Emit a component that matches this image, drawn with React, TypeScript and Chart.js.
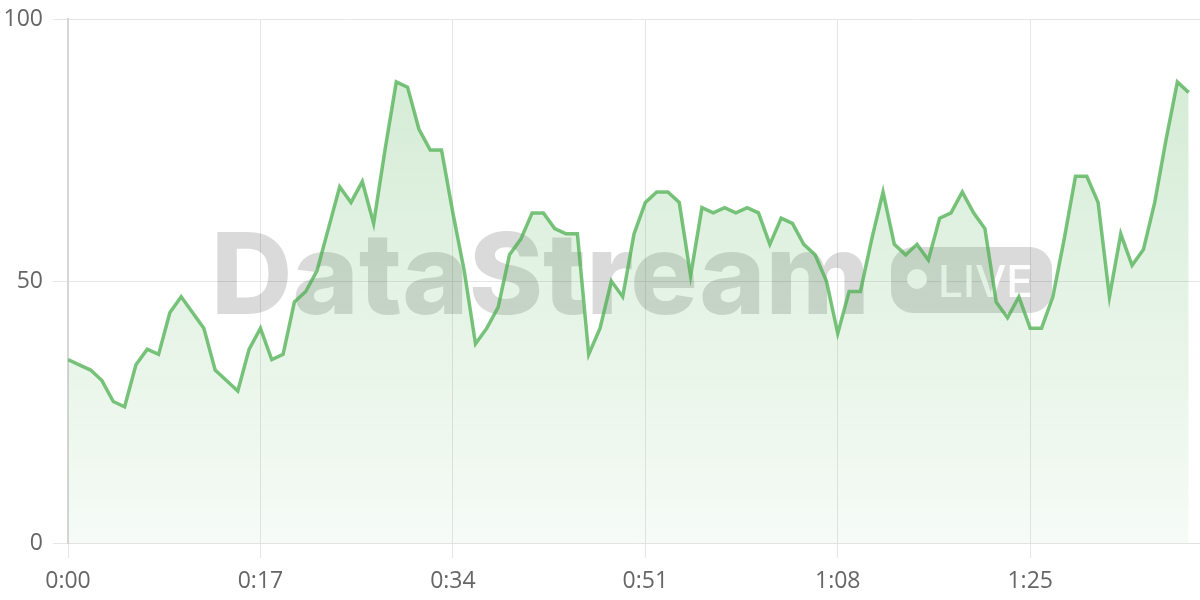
import React, { useEffect, useRef } from "react";
import { Chart, registerables } from "chart.js";

Chart.register(...registerables);

// seconds 0..99, one reading per second
const values: number[] = [
  35, 34, 33, 31, 27, 26, 34, 37, 36, 44,
  47, 44, 41, 33, 31, 29, 37, 41, 35, 36,
  46, 48, 52, 60, 68, 65, 69, 61, 75, 88,
  87, 79, 75, 75, 63, 52, 38, 41, 45, 55,
  58, 63, 63, 60, 59, 59, 36, 41, 50, 47,
  59, 65, 67, 67, 65, 51, 64, 63, 64, 63,
  64, 63, 57, 62, 61, 57, 55, 50, 40, 48,
  48, 58, 67, 57, 55, 57, 54, 62, 63, 67,
  63, 60, 46, 43, 47, 41, 41, 47, 58, 70,
  70, 65, 47, 59, 53, 56, 65, 77, 88, 86,
];

const xTickSeconds: number[] = [0, 17, 34, 51, 68, 85];
const xTickLabels: string[] = ["0:00", "0:17", "0:34", "0:51", "1:08", "1:25"];
const yTickValues: number[] = [0, 50, 100];
const X_MAX = 100;

const WATERMARK_TEXT = "DataStream";
const BADGE_TEXT = "LIVE";

const LINE_COLOR = "rgba(76,175,80,0.75)";
const TICK_FONT = { family: "'Open Sans', sans-serif", size: 23 };

const watermarkPlugin = {
  id: "watermark",
  beforeDatasetsDraw(chart: any) {
    const { ctx, chartArea } = chart;
    if (!chartArea) return;
    const cx = (chartArea.left + chartArea.right) / 2;
    const cy = (chartArea.top + chartArea.bottom) / 2;
    ctx.save();
    ctx.textAlign = "left";
    ctx.textBaseline = "alphabetic";
    ctx.font = "800 100px Inter, 'Open Sans', sans-serif";
    const w0 = ctx.measureText(WATERMARK_TEXT).width;
    const size = (100 * 659) / w0;
    ctx.font = `800 ${size}px Inter, 'Open Sans', sans-serif`;
    ctx.fillStyle = "rgba(0,0,0,0.145)";
    ctx.fillText(WATERMARK_TEXT, cx - 423, cy + 33);

    // badge
    const bx = cx + 257, by = cy - 34, bw = 161, bh = 66, r = 22;
    ctx.beginPath();
    if (ctx.roundRect) ctx.roundRect(bx, by, bw, bh, r);
    else ctx.rect(bx, by, bw, bh);
    ctx.fill();

    ctx.fillStyle = "rgba(255,255,255,0.95)";
    ctx.beginPath();
    ctx.arc(cx + 283, cy - 2, 10, 0, Math.PI * 2);
    ctx.fill();
    ctx.font = "500 48px Inter, 'Open Sans', sans-serif";
    const lw = ctx.measureText(BADGE_TEXT).width;
    const ls = (48 * 95) / lw;
    ctx.font = `500 ${ls}px Inter, 'Open Sans', sans-serif`;
    ctx.fillText(BADGE_TEXT, cx + 304, cy + 16);
    ctx.restore();
  },
};

export default function App() {
  const canvasRef = useRef<HTMLCanvasElement | null>(null);

  useEffect(() => {
    document.body.style.margin = "0";
    const canvas = canvasRef.current;
    if (!canvas) return;
    const chart = new Chart(canvas, {
      type: "line",
      data: {
        datasets: [
          {
            data: values.map((v, i) => ({ x: i, y: v })),
            borderColor: LINE_COLOR,
            borderWidth: 3.5,
            tension: 0,
            pointRadius: 0,
            fill: "origin",
            backgroundColor: (c: any) => {
              const { chart: ch } = c;
              const area = ch.chartArea;
              if (!area) return "rgba(76,175,80,0.1)";
              const g = ch.ctx.createLinearGradient(0, area.top, 0, area.bottom);
              g.addColorStop(0, "rgba(76,175,80,0.26)");
              g.addColorStop(1, "rgba(76,175,80,0.05)");
              return g;
            },
          },
        ],
      },
      options: {
        animation: false,
        responsive: true,
        maintainAspectRatio: false,
        layout: { padding: { top: 19, right: 0, bottom: 0, left: 0 } },
        plugins: {
          legend: { display: false },
          tooltip: { enabled: false },
        },
        scales: {
          x: {
            type: "linear",
            min: 0,
            max: X_MAX,
            afterBuildTicks: (s: any) => {
              s.ticks = xTickSeconds.map((v) => ({ value: v }));
            },
            afterFit: (s: any) => {
              s.height = 57;
              s.paddingLeft = 0;
              s.paddingRight = 0;
            },
            ticks: {
              autoSkip: false,
              maxRotation: 0,
              padding: 10,
              color: "#666",
              font: TICK_FONT,
              callback: (_v: any, i: number) => xTickLabels[i],
            },
            grid: { color: "#e6e6e6", tickLength: 15, lineWidth: 1 },
            border: { color: "#e2e2e2" },
          },
          y: {
            min: 0,
            max: 100,
            afterBuildTicks: (s: any) => {
              s.ticks = yTickValues.map((v) => ({ value: v }));
            },
            afterFit: (s: any) => {
              s.width = 68;
              s.paddingTop = 0;
              s.paddingBottom = 0;
            },
            ticks: {
              padding: 10,
              color: "#666",
              font: TICK_FONT,
            },
            grid: { color: "#e6e6e6", tickLength: 15, lineWidth: 1 },
            border: { color: "#d6d6d6", width: 2 },
          },
        },
      },
      plugins: [watermarkPlugin],
    });
    return () => chart.destroy();
  }, []);

  return (
    <div style={{ position: "fixed", left: 0, top: 0, width: 1200, height: 600 }}>
      <canvas ref={canvasRef} />
    </div>
  );
}
